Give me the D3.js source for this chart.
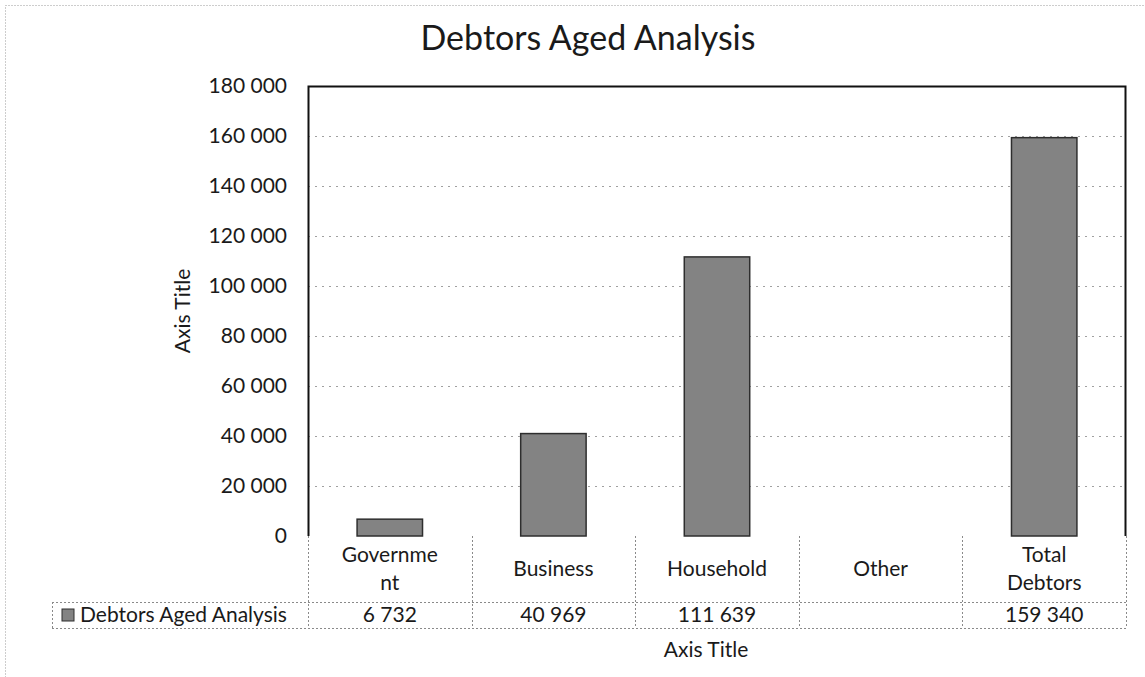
<!DOCTYPE html>
<html>
<head>
<meta charset="utf-8">
<script src="https://cdn.jsdelivr.net/npm/d3@7"></script>
<style>
  html, body { margin: 0; padding: 0; background: #fff; }
  svg { display: block; }
  text { font-family: Lato, "Open Sans", "Liberation Sans", sans-serif; fill: #1a1a1a; }
</style>
</head>
<body>
<svg id="chart" width="1145" height="677"></svg>
<script>
// ---- data ----
const chartTitle = "Debtors Aged Analysis";
const seriesName = "Debtors Aged Analysis";
const categories = ["Government", "Business", "Household", "Other", "Total Debtors"];
const categoryLabelLines = [["Governme", "nt"], ["Business"], ["Household"], ["Other"], ["Total", "Debtors"]];
const values = [6732, 40969, 111639, null, 159340];
const yTicks = [0, 20000, 40000, 60000, 80000, 100000, 120000, 140000, 160000, 180000];
const yAxisTitle = "Axis Title";
const xAxisTitle = "Axis Title";

// ---- layout ----
const svg = d3.select("#chart");
const plotLeft = 308, plotRight = 1126, plotTop = 86, plotBottom = 536;
const labelRowBottom = 602, dataRowBottom = 628, legendLeft = 52;
const fs = 21;

const loc = d3.formatLocale({ decimal: ".", thousands: " ", grouping: [3], currency: ["", ""] });
const fmt = loc.format(",d");

const y = d3.scaleLinear().domain([0, 180000]).range([plotBottom, plotTop]);
const xBar = d3.scaleBand().domain(categories).range([plotLeft, plotRight]).paddingInner(0.6).paddingOuter(0.3);
const xCell = d3.scaleBand().domain(categories).range([plotLeft, plotRight]).padding(0);

// outer chart border (dotted)
svg.append("rect").attr("x", 5.5).attr("y", 5.5).attr("width", 1160).attr("height", 700)
  .attr("fill", "none").attr("stroke", "#9a9a9a").attr("stroke-width", 1).attr("stroke-dasharray", "1,2");

// title
svg.append("text").attr("x", 588).attr("y", 50).attr("text-anchor", "middle")
  .attr("font-size", 34).text(chartTitle);

// gridlines
svg.append("g").selectAll("line").data(yTicks.filter(t => t > 0 && t < 180000)).join("line")
  .attr("x1", plotLeft).attr("x2", plotRight)
  .attr("y1", d => Math.round(y(d)) + 0.5).attr("y2", d => Math.round(y(d)) + 0.5)
  .attr("stroke", "#a0a0a0").attr("stroke-width", 1).attr("stroke-dasharray", "2,5");

// y axis
const yAxis = d3.axisLeft(y).tickValues(yTicks).tickFormat(fmt).tickSize(0).tickPadding(21);
const gy = svg.append("g").attr("transform", `translate(${plotLeft},0)`).call(yAxis);
gy.select(".domain").remove();
gy.selectAll("text").attr("font-size", fs).attr("fill", "#1a1a1a")
  .style("font-family", "Lato, 'Open Sans', sans-serif");

// plot border: left, top, right
svg.append("path")
  .attr("d", `M${plotLeft + 0.5},${plotBottom}V${plotTop + 0.5}H${plotRight - 0.5}V${plotBottom}`)
  .attr("fill", "none").attr("stroke", "#111").attr("stroke-width", 2);

// bars
svg.append("g").selectAll("rect").data(categories.map((c, i) => ({ c, v: values[i] })).filter(d => d.v != null))
  .join("rect")
  .attr("x", d => xBar(d.c)).attr("width", xBar.bandwidth())
  .attr("y", d => y(d.v)).attr("height", d => y(0) - y(d.v))
  .attr("fill", "#838383").attr("stroke", "#2e2e2e").attr("stroke-width", 1.5);

// data table grid
const grid = svg.append("g").attr("stroke", "#8a8a8a").attr("stroke-width", 1).attr("stroke-dasharray", "2,2").attr("fill", "none");
const vx = [plotLeft].concat(categories.map(c => xCell(c) + xCell.bandwidth()));
vx.forEach(x => {
  grid.append("line").attr("x1", Math.round(x) + 0.5).attr("x2", Math.round(x) + 0.5)
    .attr("y1", plotBottom).attr("y2", dataRowBottom);
});
grid.append("line").attr("x1", legendLeft + 0.5).attr("x2", legendLeft + 0.5).attr("y1", labelRowBottom).attr("y2", dataRowBottom);
grid.append("line").attr("x1", legendLeft).attr("x2", plotRight).attr("y1", labelRowBottom + 0.5).attr("y2", labelRowBottom + 0.5);
grid.append("line").attr("x1", legendLeft).attr("x2", plotRight).attr("y1", dataRowBottom + 0.5).attr("y2", dataRowBottom + 0.5);

// category labels
const lab = svg.append("g");
categories.forEach((c, i) => {
  const lines = categoryLabelLines[i];
  const cx = xCell(c) + xCell.bandwidth() / 2;
  const mid = (plotBottom + labelRowBottom) / 2 + 7;
  const lh = 28;
  lines.forEach((ln, j) => {
    lab.append("text").attr("x", cx)
      .attr("y", mid + (j - (lines.length - 1) / 2) * lh)
      .attr("text-anchor", "middle").attr("font-size", fs).text(ln);
  });
});

// data row values
svg.append("g").selectAll("text").data(categories.map((c, i) => ({ c, v: values[i] })).filter(d => d.v != null))
  .join("text")
  .attr("x", d => xCell(d.c) + xCell.bandwidth() / 2).attr("y", dataRowBottom - 6)
  .attr("text-anchor", "middle").attr("font-size", fs).text(d => fmt(d.v));

// legend key in table
svg.append("rect").attr("x", 62).attr("y", 609).attr("width", 12).attr("height", 12)
  .attr("fill", "#838383").attr("stroke", "#2e2e2e").attr("stroke-width", 1);
svg.append("text").attr("x", 80).attr("y", dataRowBottom - 6).attr("font-size", fs).text(seriesName);

// axis titles
svg.append("text").attr("transform", `translate(190,${(plotTop + plotBottom) / 2}) rotate(-90)`)
  .attr("text-anchor", "middle").attr("font-size", fs).text(yAxisTitle);
svg.append("text").attr("x", 706).attr("y", 657).attr("text-anchor", "middle")
  .attr("font-size", fs).text(xAxisTitle);
</script>
</body>
</html>
